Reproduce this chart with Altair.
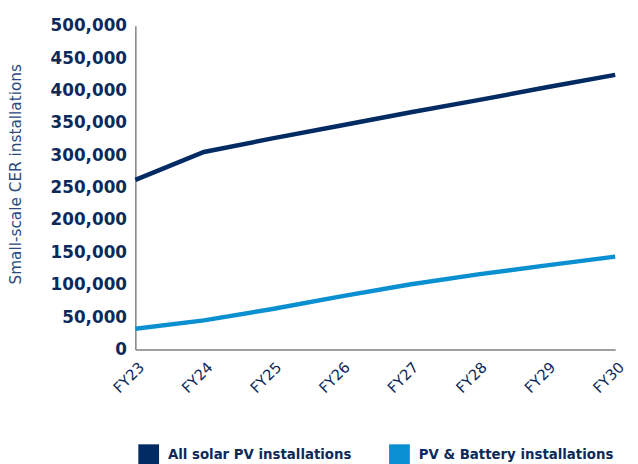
import altair as alt
import pandas as pd

years = ["FY23", "FY24", "FY25", "FY26", "FY27", "FY28", "FY29", "FY30"]
all_solar = [262000, 305000, 326000, 346000, 366000, 385000, 405000, 424000]
pv_battery = [32000, 45000, 62500, 82000, 100500, 116000, 130000, 143500]
series_names = ["All solar PV installations", "PV & Battery installations"]
series_colors = ["#022a63", "#0a8fd0"]
y_ticks = [0, 50000, 100000, 150000, 200000, 250000, 300000, 350000, 400000, 450000, 500000]

rows = []
for name, vals in zip(series_names, [all_solar, pv_battery]):
    for yr, v in zip(years, vals):
        rows.append({"year": yr, "value": v, "series": name})
df = pd.DataFrame(rows)

navy = "#0b2a5b"

chart = alt.Chart(df).mark_line(strokeWidth=4.5).encode(
    x=alt.X("year:N", sort=years, scale=alt.Scale(type="point", padding=0),
            axis=alt.Axis(title=None, labelAngle=-45, labelFont="DejaVu Sans",
                          labelFontSize=15, labelColor=navy, ticks=False,
                          domainColor="#808080", domainWidth=1.5, labelPadding=10,
                          labelOffset=1)),
    y=alt.Y("value:Q", scale=alt.Scale(domain=[0, 500000]),
            axis=alt.Axis(title="Small-scale CER installations", values=y_ticks, format=",.0f",
                          grid=False, ticks=False, labelFont="DejaVu Sans",
                          labelFontWeight="bold", labelFontSize=17, labelColor=navy,
                          labelPadding=9, domainColor="#808080", domainWidth=1.5,
                          titleFont="DejaVu Sans", titleFontWeight="normal",
                          titleFontSize=15.5, titleColor="#2b4b7d",
                          titleX=-121, titleY=150, titleAngle=270,
                          titleAlign="center", titleBaseline="middle")),
    color=alt.Color("series:N", scale=alt.Scale(domain=series_names, range=series_colors),
                    legend=alt.Legend(title=None, orient="none", legendX=3, legendY=424,
                                      direction="horizontal", symbolType="square",
                                      symbolSize=1, symbolStrokeWidth=20,
                                      labelFont="DejaVu Sans", labelFontWeight="bold",
                                      labelFontSize=13.5, labelColor=navy, labelLimit=400,
                                      labelOffset=9, columnPadding=7)),
).properties(
    width=486, height=328,
    autosize=alt.AutoSizeParams(type="none"),
    padding={"left": 129, "top": 15, "right": 15, "bottom": 113},
).configure_view(stroke=None)

chart.save("out.html", embed_options={"renderer": "svg", "actions": False})
